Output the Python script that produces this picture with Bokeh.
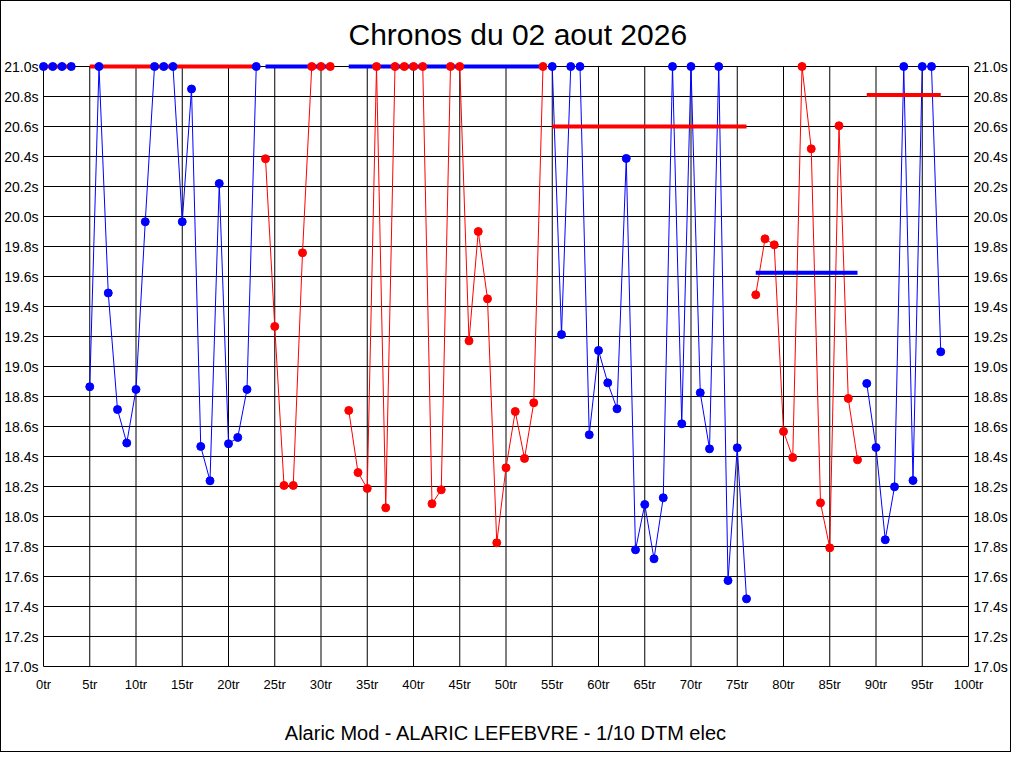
from bokeh.plotting import figure
from bokeh.models import Range1d, LinearAxis, FixedTicker, PrintfTickFormatter
from bokeh.embed import file_html
from bokeh.resources import INLINE

# ---- data (lap number -> lap time in s, values above 21.0 shown capped at 21.0) ----
run_first_lap = [0, 5, 24, 33, 55, 77, 89]
times_run1 = [21.0, 21.0, 21.0, 21.0]
times_run2 = [18.865, 21.0, 19.49, 18.713, 18.49, 18.847, 19.965, 21.0, 21.0, 21.0,
              19.965, 20.85, 18.467, 18.238, 20.22, 18.485, 18.527, 18.847, 21.0]
times_run3 = [20.385, 19.267, 18.207, 18.207, 19.758, 21.0, 21.0, 21.0]
times_run4 = [18.707, 18.293, 18.187, 21.0, 18.058, 21.0, 21.0, 21.0, 21.0, 18.085,
              18.178, 21.0, 21.0, 19.171, 19.9, 19.451, 17.825, 18.325, 18.7, 18.387,
              18.758, 21.0]
times_run5 = [21.0, 19.213, 21.0, 21.0, 18.545, 19.107, 18.891, 18.718, 20.387, 17.778,
              18.08, 17.718, 18.125, 21.0, 18.618, 21.0, 18.825, 18.451, 21.0, 17.573,
              18.458, 17.451]
times_run6 = [19.478, 19.851, 19.811, 18.567, 18.393, 21.0, 20.451, 18.091, 17.791,
              20.605, 18.787, 18.378]
times_run7 = [18.887, 18.46, 17.845, 18.198, 21.0, 18.24, 21.0, 21.0, 19.098]
run_means = [21.0, 21.0, 21.0, 21.0, 20.6, 19.625, 20.81]
run_colors = ["blue", "blue", "red", "red", "blue", "red", "blue"]
mean_colors = ["red", "red", "blue", "blue", "red", "blue", "red"]

x_ticks = list(range(0, 101, 5))
y_ticks = [round(17.0 + 0.2 * i, 1) for i in range(21)]

runs = [times_run1, times_run2, times_run3, times_run4, times_run5, times_run6, times_run7]

# ---- geometry ----
FONT = "Liberation Sans"
frame_w, frame_h = 935, 610
pad_x = 5 / 9.25
pad_y = 5 / 150.0

p = figure(width=1006, height=750, frame_width=frame_w, frame_height=frame_h,
           output_backend="svg", toolbar_location=None,
           x_range=Range1d(0 - pad_x, 100 + pad_x), y_range=Range1d(17.0 - pad_y, 21.0 + pad_y),
           min_border_left=36, min_border_right=35, min_border_top=60, min_border_bottom=80,
           title="Chronos du 02 aout 2026")
p.styles = {"border": "1px solid black"}
p.background_fill_color = "white"
p.border_fill_color = "white"
p.outline_line_color = None
p.grid.visible = False

p.title.align = "left"
p.title.text_font = FONT
p.title.text_font_size = "30px"
p.title.text_font_style = "normal"
p.title.text_color = "black"
p.title.standoff = 21
p.title.offset = 310

# grid drawn from tick arrays, bounded to the data area
p.segment(x0=x_ticks, y0=[y_ticks[0]] * len(x_ticks), x1=x_ticks, y1=[y_ticks[-1]] * len(x_ticks),
          line_color="black", line_width=1)
p.segment(x0=[x_ticks[0]] * len(y_ticks), y0=y_ticks, x1=[x_ticks[-1]] * len(y_ticks), y1=y_ticks,
          line_color="black", line_width=1)

# lap lines
for first, times, col in zip(run_first_lap, runs, run_colors):
    laps = list(range(first, first + len(times)))
    p.line(laps, times, line_color=col, line_width=1)

# mean lines
for first, times, m, col in zip(run_first_lap, runs, run_means, mean_colors):
    p.line([first, first + len(times) - 1], [m, m], line_color=col, line_width=4)

# markers
for first, times, col in zip(run_first_lap, runs, run_colors):
    laps = list(range(first, first + len(times)))
    p.scatter(laps, times, size=8, marker="circle", fill_color=col, line_color=col)

# axes
def style_axis(ax, fmt, size, standoff):
    ax.formatter = PrintfTickFormatter(format=fmt)
    ax.major_tick_out = 0
    ax.major_tick_in = 0
    ax.minor_tick_out = 0
    ax.minor_tick_in = 0
    ax.axis_line_color = None
    ax.major_label_text_font = FONT
    ax.major_label_text_font_size = size
    ax.major_label_text_color = "black"
    ax.major_label_standoff = standoff

p.xaxis.ticker = FixedTicker(ticks=x_ticks)
p.yaxis.ticker = FixedTicker(ticks=y_ticks)
style_axis(p.xaxis[0], "%dtr", "13px", 5)
style_axis(p.yaxis[0], "%.1fs", "14px", 0)

right = LinearAxis(ticker=FixedTicker(ticks=y_ticks))
style_axis(right, "%.1fs", "14px", 0)
p.add_layout(right, "right")

p.xaxis.axis_label = "Alaric Mod - ALARIC LEFEBVRE - 1/10 DTM elec"
p.xaxis.axis_label_text_font = FONT
p.xaxis.axis_label_text_font_size = "20px"
p.xaxis.axis_label_text_font_style = "normal"
p.xaxis.axis_label_text_color = "black"
p.xaxis.axis_label_standoff = 27

open("out.html", "w").write(file_html(p, INLINE))
